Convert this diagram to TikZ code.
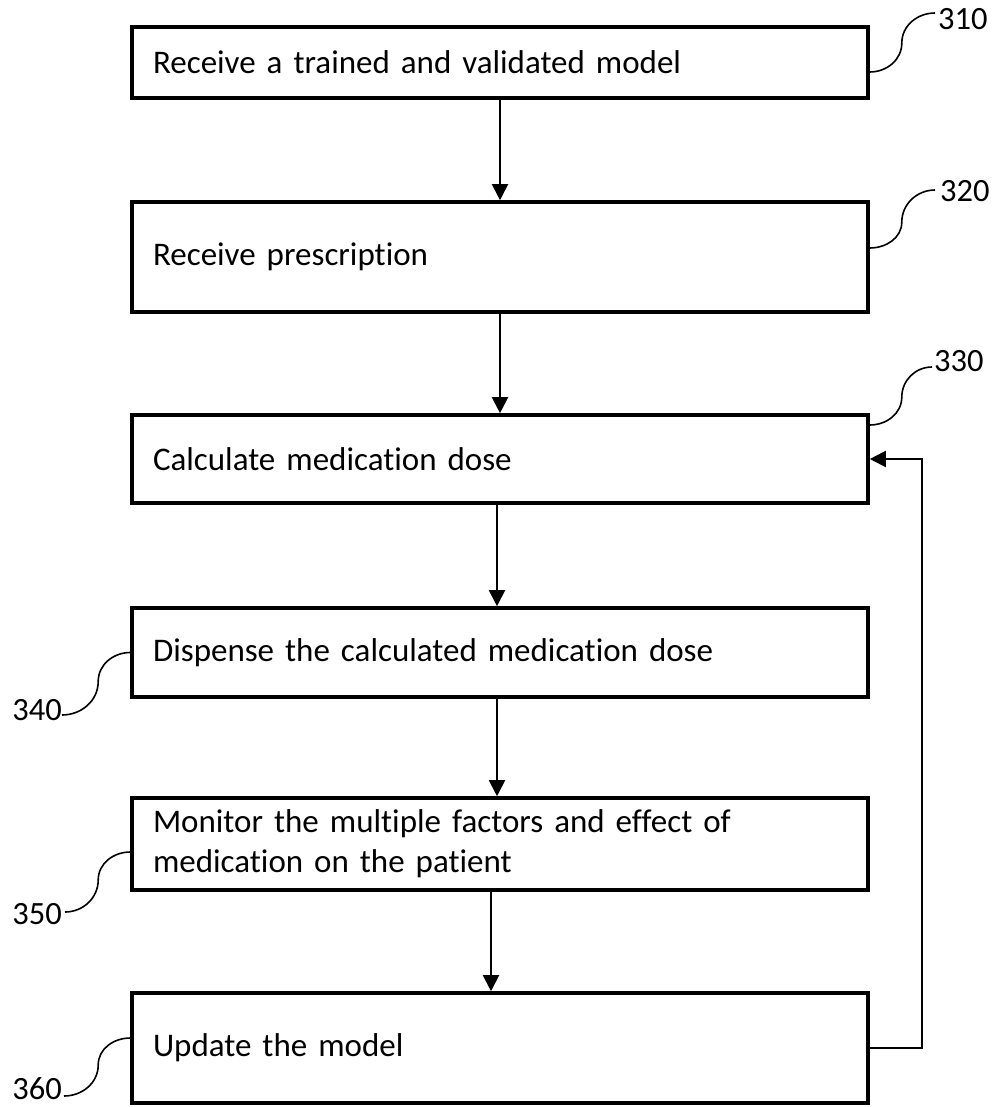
\documentclass[tikz,border=0pt]{standalone}
\usepackage{fontspec}
\setmainfont{Carlito}[Ligatures={NoCommon}]
\usetikzlibrary{arrows.meta,calc}

\begin{document}
\begin{tikzpicture}[x=1pt,y=-1pt,
  stepbox/.style={draw,line width=3.6pt,minimum width=736pt,text width=694pt,
    inner xsep=21pt,inner ysep=0pt,align=left,anchor=center,
    font=\fontsize{33}{40}\selectfont},
  refnum/.style={inner sep=0pt,font=\fontsize{32.5}{37}\selectfont},
  arr/.style={line width=2pt,-{Triangle[length=16pt,width=16pt]}},
  lead/.style={line width=1.6pt}]
\useasboundingbox (0,0) rectangle (999,1107);

% process steps
\node[stepbox,minimum height=71pt]  (b1) at (500,62.5) {Receive a trained and validated model};
\node[stepbox,minimum height=110pt] (b2) at (500,257)  {Receive prescription};
\node[stepbox,minimum height=88pt]  (b3) at (500,459)  {Calculate medication dose};
\node[stepbox,minimum height=89pt]  (b4) at (500,652.5){Dispense the calculated medication dose};
\node[stepbox,minimum height=92pt]  (b5) at (500,844)  {Monitor the multiple factors and effect of\\medication on the patient};
\node[stepbox,minimum height=110pt] (b6) at (500,1048) {Update the model};

% reference numerals
\node[refnum,anchor=west] (l1) at (938,19)   {310};
\node[refnum,anchor=west] (l2) at (940,191)  {320};
\node[refnum,anchor=west] (l3) at (934,361)  {330};
\node[refnum,anchor=east] (l4) at (62,710)   {340};
\node[refnum,anchor=east] (l5) at (62,914)   {350};
\node[refnum,anchor=east] (l6) at (62,1089)  {360};

% flow
\draw[arr] (b1.south) -- (b2.north);
\draw[arr] (b2.south) -- (b3.north);
\draw[arr] ([xshift=-3pt]b3.south) -- ([xshift=-3pt]b4.north);
\draw[arr] ([xshift=-3pt]b4.south) -- ([xshift=-3pt]b5.north);
\draw[arr] ([xshift=-9pt]b5.south) -- ([xshift=-9pt]b6.north);
\draw[arr] (b6.east) -- ++(52,0) |- (b3.east);

% leader lines
\draw[lead] ([yshift=-9.5pt]b1.east) to[out=0,in=-90] ++(32,-29)
  to[out=90,in=180] ([xshift=-3pt,yshift=6pt]l1.west);
\draw[lead] ([yshift=9pt]b2.east) to[out=0,in=-90] ++(32,-26)
  to[out=90,in=180] ([xshift=-5pt,yshift=1pt]l2.west);
\draw[lead] ([yshift=34pt]b3.east) to[out=0,in=-90] ++(32,-28)
  to[out=90,in=180] ([xshift=-2pt,yshift=-6pt]l3.west);
\draw[lead] (b4.west) to[out=180,in=90] ++(-32,29)
  to[out=-90,in=0] ([yshift=-5pt]l4.east);
\draw[lead] ([yshift=-8pt]b5.west) to[out=180,in=90] ++(-32,28)
  to[out=-90,in=0] ([xshift=3pt,yshift=2pt]l5.east);
\draw[lead] ([yshift=10pt]b6.west) to[out=180,in=90] ++(-32,27)
  to[out=-90,in=0] ([xshift=2pt,yshift=-7pt]l6.east);
\end{tikzpicture}
\end{document}
